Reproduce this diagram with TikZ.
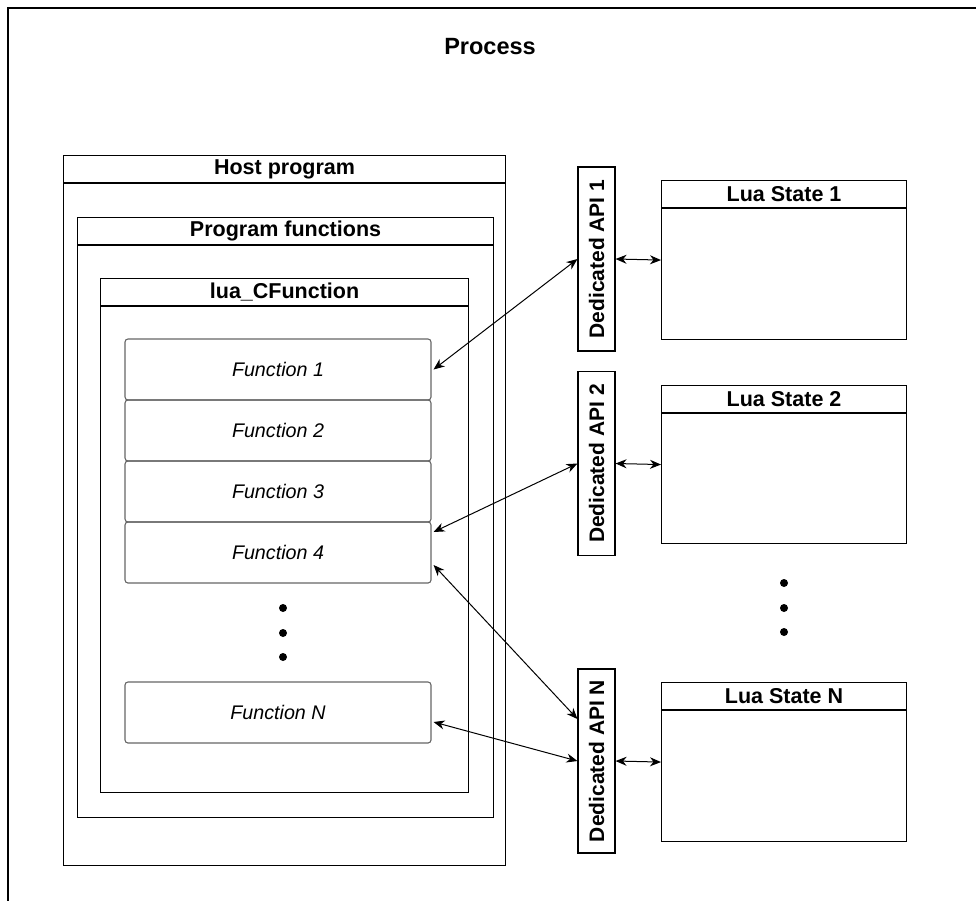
\documentclass[tikz,border=0pt]{standalone}
\usepackage{fontspec}
\setmainfont{Liberation Sans}
\usetikzlibrary{arrows.meta}
\tikzset{
  lane/.style={draw,line width=1.1pt,anchor=north west,inner sep=0pt},
  lanetitle/.style={font=\bfseries\fontsize{21.5}{24}\selectfont},
  func/.style={draw=black!60,line width=1.1pt,rounded corners=3pt,minimum width=306pt,minimum height=61pt,font=\itshape\fontsize{19.7}{22}\selectfont},
  api/.style={draw,line width=1.1pt,rotate=90,minimum width=184pt,minimum height=37pt,inner sep=0pt,font=\bfseries\fontsize{21}{24}\selectfont},
  dot/.style={shape=circle,fill=black,minimum size=8pt,inner sep=0pt},
  link/.style={{Stealth[length=11pt,width=9pt,inset=3.5pt]}-{Stealth[length=11pt,width=9pt,inset=3.5pt]},line width=1pt}
}
\begin{document}
\begin{tikzpicture}[x=1pt,y=-1pt]
\useasboundingbox (0,0) rectangle (976,900);
\clip (0,0) rectangle (976,900);
%process frame
\draw[line width=1.1pt] (8,8) rectangle (1000,930);
\node[font=\bfseries\fontsize{23.5}{26}\selectfont] (proc) at (490,47) {Process};
%containers
\node[lane,minimum width=442pt,minimum height=710pt] (host) at (63,155) {};
\node[lane,minimum width=416pt,minimum height=600pt] (prog) at (77,217) {};
\node[lane,minimum width=368pt,minimum height=514pt] (cfun) at (100,278) {};
\node[lane,minimum width=245pt,minimum height=159pt] (lua1) at (661,180) {};
\node[lane,minimum width=245pt,minimum height=158pt] (lua2) at (661,385) {};
\node[lane,minimum width=245pt,minimum height=159pt] (luan) at (661,682) {};
\foreach \c in {host,prog,cfun,lua1,lua2,luan}
  \draw[line width=1.1pt] ([yshift=-28pt]\c.north west) -- ([yshift=-28pt]\c.north east);
\node[lanetitle] (hostt) at ([yshift=-14pt]host.north) {Host program};
\node[lanetitle] (progt) at ([yshift=-14pt]prog.north) {Program functions};
\node[lanetitle] (cfunt) at ([yshift=-14pt]cfun.north) {lua\_CFunction};
\node[lanetitle] (lua1t) at ([yshift=-14pt]lua1.north) {Lua State 1};
\node[lanetitle] (lua2t) at ([yshift=-14pt]lua2.north) {Lua State 2};
\node[lanetitle] (luant) at ([yshift=-14pt]luan.north) {Lua State N};
%functions
\node[func] (f1) at (278,369.5) {Function 1};
\node[func] (f2) at (278,430.5) {Function 2};
\node[func] (f3) at (278,491.5) {Function 3};
\node[func] (f4) at (278,552.5) {Function 4};
\node[func] (fn) at (278,712.5) {Function N};
\node[dot] (d1) at (283,608) {};
\node[dot] (d2) at (283,633) {};
\node[dot] (d3) at (283,657) {};
%dedicated apis
\node[api] (api1) at (596.5,259) {Dedicated API 1};
\node[api] (api2) at (596.5,463.5) {Dedicated API 2};
\node[api] (apin) at (596.5,761) {Dedicated API N};
\node[dot] (e1) at (784,583) {};
\node[dot] (e2) at (784,608) {};
\node[dot] (e3) at (784,632) {};
%links
\draw[link] (api1.south) -- (lua1.west);
\draw[link] (api2.south) -- (lua2.west);
\draw[link] (apin.south) -- (luan.west);
\draw[link] ([xshift=2pt]f1.east) -- (api1.north);
\draw[link] ([xshift=2pt,yshift=20.5pt]f4.east) -- (api2.north);
\draw[link] ([xshift=2pt,yshift=-12.5pt]f4.east) -- ([yshift=42pt]apin.north);
\draw[link] ([xshift=2pt,yshift=-9.5pt]fn.east) -- (apin.north);
\end{tikzpicture}
\end{document}
